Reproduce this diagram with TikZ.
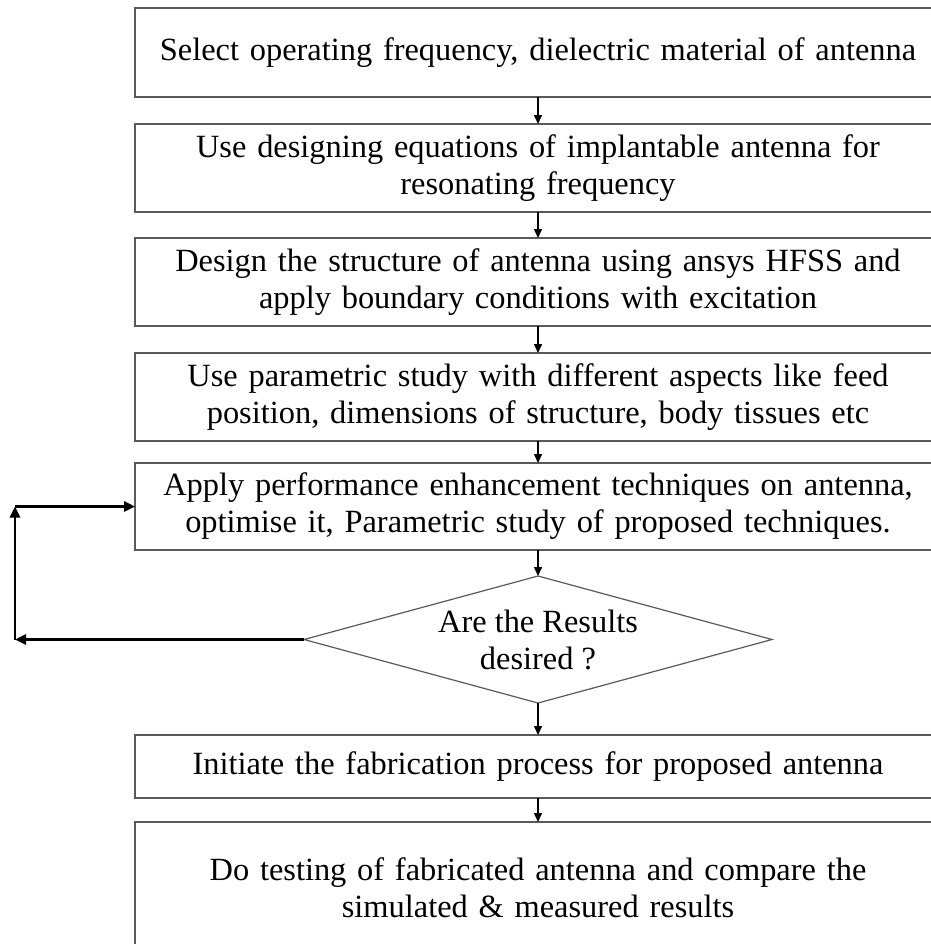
\documentclass[tikz,border=0pt]{standalone}
\usepackage{fontspec}
\setmainfont{Liberation Serif}
\usepackage{tikz}
\usetikzlibrary{positioning,shapes.geometric,arrows.meta}

\definecolor{boxgray}{gray}{0.35}

\tikzset{
  stepbox/.style={draw=boxgray, line width=0.6pt, minimum width=403pt, text width=390pt,
    align=center, inner xsep=4pt, inner ysep=1pt, outer sep=0pt,
    font=\fontsize{16.2pt}{18.5pt}\selectfont},
  decide/.style={draw=boxgray, line width=0.6pt, diamond, aspect=3.685, inner sep=0pt,
    outer sep=0pt, minimum width=234pt, minimum height=63.5pt, align=center,
    font=\fontsize{16.2pt}{18.5pt}\selectfont},
  flow/.style={-{Triangle[length=4.5pt,width=4pt]}, line width=0.75pt, black},
  back/.style={-{Triangle[length=5.5pt,width=5pt]}, line width=1.3pt, black}
}

\begin{document}
\begin{tikzpicture}

\useasboundingbox (0,0) rectangle (465.5pt,-472pt);

% define nodes

% steps
\node[stepbox, anchor=north, minimum height=44.5pt] (sel) at (269pt,-4pt) {Select operating frequency, dielectric material of antenna};
\node[stepbox, below=13.5pt of sel, minimum height=44pt] (equ) {Use designing equations of implantable antenna for\\ resonating frequency};
\node[stepbox, below=13pt of equ, minimum height=44pt] (des) {Design the structure of antenna using ansys HFSS and\\ apply boundary conditions with excitation};
\node[stepbox, below=13.5pt of des, minimum height=44pt] (par) {Use parametric study with different aspects like feed\\ position, dimensions of structure, body tissues etc};
\node[stepbox, below=11pt of par, minimum height=43.5pt] (app) {Apply performance enhancement techniques on antenna,\\ optimise it, Parametric study of proposed techniques.};
% decision
\node[decide, below=13pt of app] (dia) {Are the Results\\ desired ?};
% last steps
\node[stepbox, below=16pt of dia, minimum height=31.5pt] (fab) {Initiate the fabrication process for proposed antenna};
\node[stepbox, below=12pt of fab, minimum height=66pt] (tst) {Do testing of fabricated antenna and compare the\\ simulated \& measured results};

% feedback corners
\coordinate (lx) at (7.5pt,0);
\coordinate (fbl) at (dia.west -| lx);
\coordinate (fbu) at (app.west -| lx);

% edges

\draw[flow] (sel) -- (equ);
\draw[flow] (equ) -- (des);
\draw[flow] (des) -- (par);
\draw[flow] (par) -- (app);
\draw[flow] (app) -- (dia);
\draw[flow] (dia) -- (fab);
\draw[flow] (fab) -- (tst);

\draw[back] (dia.west) -- (fbl);
\draw[back] (fbl) -- (fbu);
\draw[back] (fbu) -- (app.west);

\end{tikzpicture}
\end{document}
